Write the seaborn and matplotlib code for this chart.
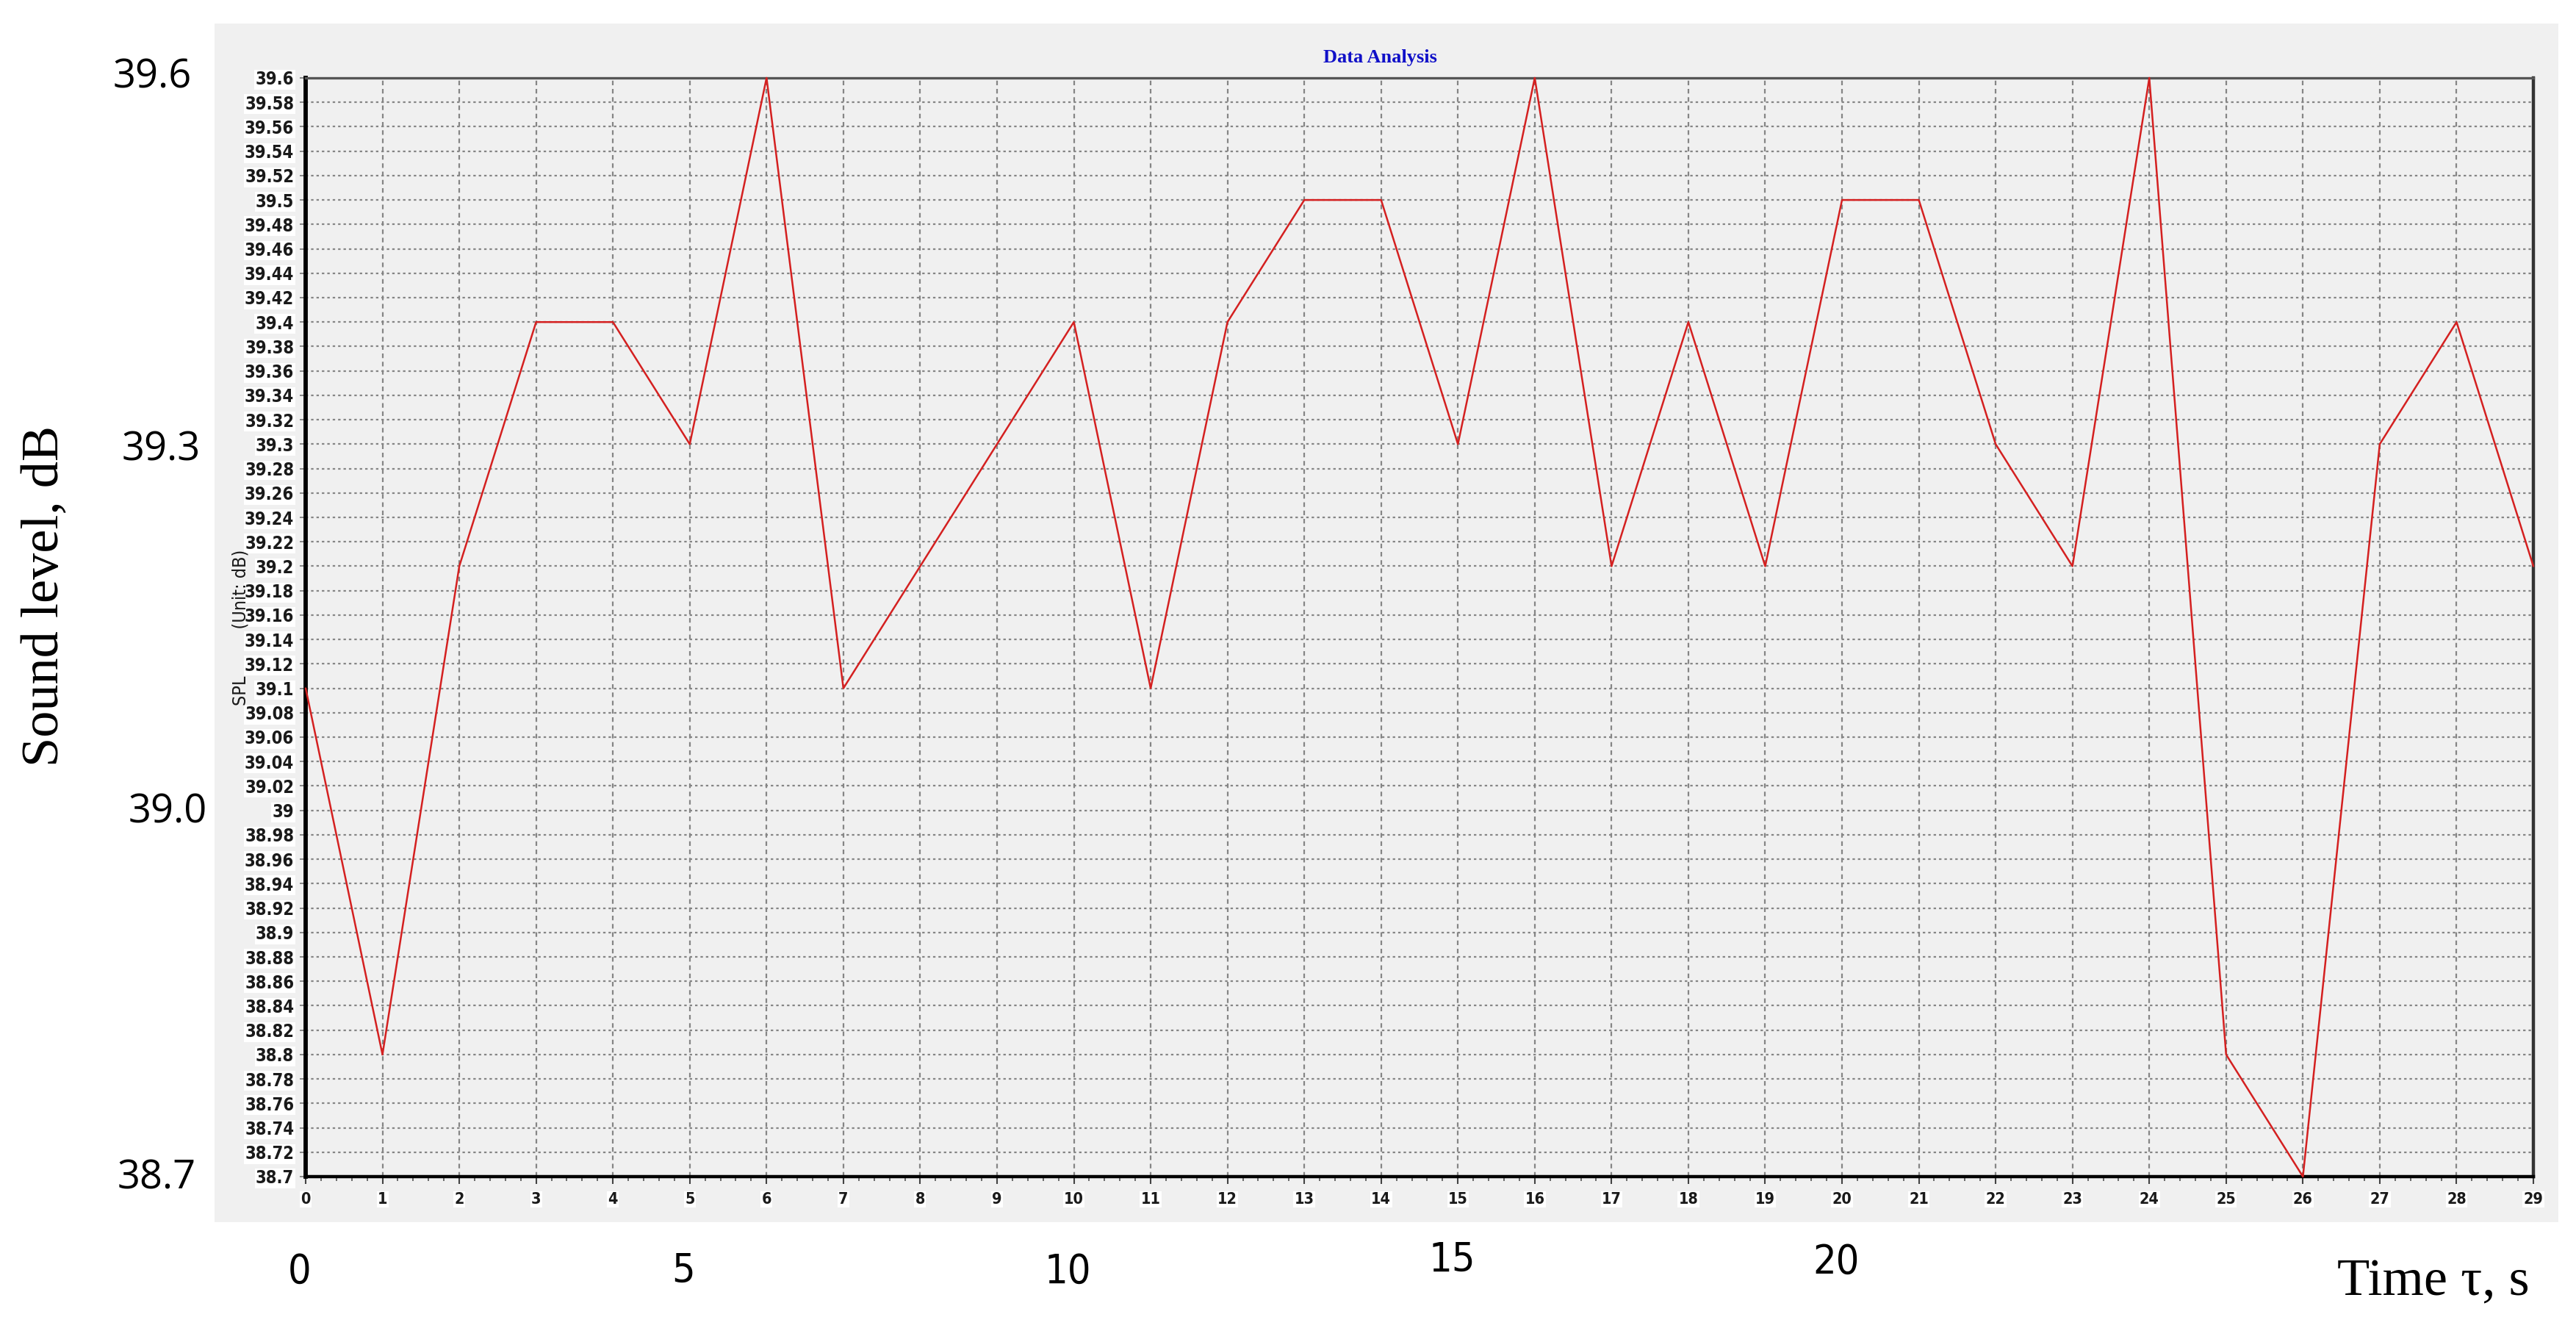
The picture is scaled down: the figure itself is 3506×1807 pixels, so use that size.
import numpy as np
import pandas as pd
import matplotlib
matplotlib.use("Agg")
import matplotlib.pyplot as plt
from matplotlib.patches import Rectangle
from matplotlib.ticker import MultipleLocator, FuncFormatter
from matplotlib import font_manager as fm
import matplotlib.transforms as mtransforms
import seaborn as sns

# ---------------- data ----------------
time_s = [0, 1, 2, 3, 4, 5, 6, 7, 8, 9, 10, 11, 12, 13, 14,
          15, 16, 17, 18, 19, 20, 21, 22, 23, 24, 25, 26, 27, 28, 29]
spl_db = [39.1, 38.8, 39.2, 39.4, 39.4, 39.3, 39.6, 39.1, 39.2, 39.3,
          39.4, 39.1, 39.4, 39.5, 39.5, 39.3, 39.6, 39.2, 39.4, 39.2,
          39.5, 39.5, 39.3, 39.2, 39.6, 38.8, 38.7, 39.3, 39.4, 39.2]
chart_title = "Data Analysis"
inner_ylabel_parts = ["SPL", "(Unit: dB)"]
outer_ylabel = "Sound level, dB"
outer_xlabel = "Time \u03c4, s"
overlay_y_labels = ["39.6", "39.3", "39.0", "38.7"]
overlay_x_values = [0, 5, 10, 15, 20]
overlay_x_labels = ["0", "5", "10", "15", "20"]
y_range = (38.7, 39.6)
x_range = (0, 29)

df = pd.DataFrame({"t": time_s, "spl": spl_db})

# ---------------- style ----------------
sns.set_style("ticks")
plt.rcParams["font.family"] = ["DejaVu Sans"]
plt.rcParams["lines.scale_dashes"] = False

names = {f.name for f in fm.fontManager.ttflist}
SANS = "Open Sans" if "Open Sans" in names else "DejaVu Sans"
SERIF = "Liberation Serif" if "Liberation Serif" in names else "DejaVu Serif"
NARROW_STRETCHES = ("condensed", "semi-condensed", "extra-condensed", "ultra-condensed")


def narrow_font(bold):
    """Find an installed narrow/condensed sans face; fall back to DejaVu Sans."""
    cands = []
    for f in fm.fontManager.ttflist:
        is_narrow = ("Narrow" in f.name or "Condensed" in f.name
                     or str(f.stretch) in NARROW_STRETCHES)
        if not is_narrow or f.style != "normal":
            continue
        if "Mono" in f.name or "Serif" in f.name:
            continue
        w = f.weight if isinstance(f.weight, int) else (700 if "bold" in str(f.weight) else 400)
        if bold != (w >= 600):
            continue
        pref = 0 if "Liberation" in f.name else (1 if "DejaVu" in f.name else 2)
        cands.append((pref, f.fname))
    if cands:
        cands.sort()
        return dict(fname=cands[0][1])
    return dict(family="DejaVu Sans", weight="bold" if bold else "normal")


NB = narrow_font(True)
NR = narrow_font(False)


def fp(spec, size):
    return fm.FontProperties(size=size, **spec)


W, H = 3506, 1807
fig = plt.figure(figsize=(W / 100, H / 100), dpi=100, facecolor="white")


def fx(px):
    return px / W


def fy(py):
    return 1 - py / H


# light gray panel of the software window
panel = Rectangle((fx(292), fy(1663)), fx(3482) - fx(292), fy(32) - fy(1663),
                  transform=fig.transFigure, facecolor="#f0f0f0",
                  edgecolor="none", zorder=-10)
fig.add_artist(panel)

ax_l, ax_r, ax_t, ax_b = 416, 3448, 106, 1601
ax = fig.add_axes([fx(ax_l), fy(ax_b), fx(ax_r) - fx(ax_l), fy(ax_t) - fy(ax_b)])
ax.set_zorder(2)
ax.set_facecolor("#f0f0f0")

sns.lineplot(data=df, x="t", y="spl", ax=ax, color="#d42020", linewidth=1.8,
             zorder=5, clip_on=False)

ax.set_xlim(*x_range)
ax.set_ylim(*y_range)
ax.xaxis.set_major_locator(MultipleLocator(1))
ax.xaxis.set_minor_locator(MultipleLocator(0.2))
ax.yaxis.set_major_locator(MultipleLocator(0.02))


def yfmt(v, pos):
    return f"{v:.2f}".rstrip("0").rstrip(".")


ax.yaxis.set_major_formatter(FuncFormatter(yfmt))
ax.xaxis.set_major_formatter(FuncFormatter(lambda v, p: f"{int(round(v))}"))

# grid
ax.set_axisbelow(True)
ax.yaxis.grid(True, which="major", color="#858585", linewidth=1.6,
              linestyle=(0, (2.4, 2.9)))
ax.xaxis.grid(True, which="major", color="#858585", linewidth=1.6,
              linestyle=(0, (4.5, 3.6)))

# spines
for s in ax.spines.values():
    s.set_visible(True)
ax.spines["left"].set_color("black")
ax.spines["left"].set_linewidth(4.2)
ax.spines["bottom"].set_color("black")
ax.spines["bottom"].set_linewidth(3.2)
ax.spines["top"].set_color("#555555")
ax.spines["top"].set_linewidth(2.4)
ax.spines["right"].set_color("#333333")
ax.spines["right"].set_linewidth(3.2)

# ticks
ax.tick_params(axis="y", which="major", direction="out", length=5.8, width=1.4,
               color="#888888", pad=5.5)
ax.tick_params(axis="x", which="major", direction="out", length=7.2, width=1.5,
               color="#444444", pad=8)
ax.tick_params(axis="x", which="minor", direction="out", length=4.0, width=1.2,
               color="#555555")
for lbl in ax.get_yticklabels():
    lbl.set_fontproperties(fp(NB, 17))
    lbl.set_color("#1a1a1a")
    lbl.set_bbox(dict(facecolor="white", edgecolor="none", pad=1.0))
for lbl in ax.get_xticklabels():
    lbl.set_fontproperties(fp(NB, 15.5))
    lbl.set_color("#1a1a1a")
    lbl.set_bbox(dict(facecolor="white", edgecolor="none", pad=1.0))

ax.set_xlabel("")
ax.set_ylabel((" " * 9).join(inner_ylabel_parts), fontproperties=fp(NR, 18),
              color="#1a1a1a", va="center")
ax.yaxis.set_label_coords((327 - ax_l) / (ax_r - ax_l), 0.5)

# title inside the software panel
fig.text(fx(1878), fy(79), chart_title, family=SERIF, fontweight="bold",
         fontsize=19, color="#1010c8", ha="center", va="center")

# ---------------- outer (article) labels ----------------
fig.text(fx(62), fy(811), outer_ylabel, family=SERIF, fontsize=52,
         rotation=90, ha="center", va="center", color="black")
fig.text(fx(3443), fy(1762), outer_xlabel, family=SERIF, fontsize=52,
         ha="right", va="baseline", color="black")

overlay_y_pos = [(207, 105), (219, 612), (228, 1105), (213, 1603)]
for lab, (px, py) in zip(overlay_y_labels, overlay_y_pos):
    fig.text(fx(px), fy(py), lab, family=SANS, fontsize=39, ha="center",
             va="center", color="black")

overlay_x_ypos = [1731, 1730, 1731, 1715, 1718]
blend = mtransforms.blended_transform_factory(ax.transData, fig.transFigure)
for xv, lab, py in zip(overlay_x_values, overlay_x_labels, overlay_x_ypos):
    ax.text(xv - 0.08, fy(py), lab, transform=blend, fontproperties=fp(NR, 40),
            ha="center", va="center", color="black", clip_on=False)

fig.savefig("out.png", dpi=100, facecolor="white")
